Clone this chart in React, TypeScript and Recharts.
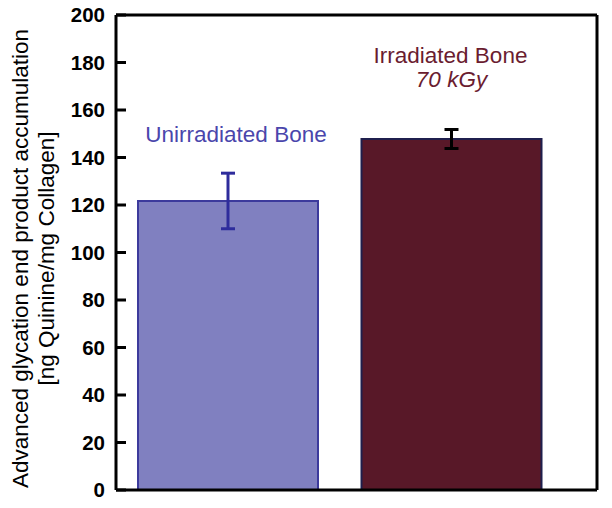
import React from 'react';
import { BarChart, Bar, XAxis, YAxis, Cell, ErrorBar, ReferenceLine, LabelList } from 'recharts';

const categories = ['Unirradiated Bone', 'Irradiated Bone'];
const subLabels = ['', '70 kGy'];
const means = [121.7, 147.8];
const errors = [11.7, 4.0];
const yTicks = [0, 20, 40, 60, 80, 100, 120, 140, 160, 180, 200];

const FILLS = ['#8080c0', '#581828'];
const STROKES = ['#3c3a9c', '#1f1f4d'];
const ERR_COLORS = ['#2e2c9c', '#000000'];
const TEXT_COLORS = ['#4a46ac', '#6a1c30'];
const FONT = '"Liberation Sans", Arial, Helvetica, sans-serif';

const data = categories.map((cat, i) => ({
  cat,
  sub: subLabels[i],
  mean: means[i],
  errA: i === 0 ? errors[i] : undefined,
  errB: i === 1 ? errors[i] : undefined,
}));

const LeftTick = (props: any) => {
  const { x, y, payload } = props;
  return (
    <g>
      <line x1={x} x2={x + 10} y1={y} y2={y} stroke="#000" strokeWidth={3} />
      <text x={x - 11} y={y} dy="0.36em" textAnchor="end" fontFamily={FONT} fontWeight="bold" fontSize={20.5} fill="#000">
        {payload.value}
      </text>
    </g>
  );
};

const RightTick = (props: any) => {
  const { x, y } = props;
  return <line x1={x - 9} x2={x} y1={y} y2={y} stroke="#000" strokeWidth={3} />;
};

const YLabel = (props: any) => {
  const vb = props.viewBox || { x: 0, y: 15, width: 116, height: 475 };
  const cy = vb.y + vb.height / 2 + 6;
  return (
    <g fontFamily={FONT} fontSize={22.5} fill="#000">
      <text x={20} y={cy} textAnchor="middle" dominantBaseline="central" transform={`rotate(-90 20 ${cy})`}>
        Advanced glycation end product accumulation
      </text>
      <text x={46} y={cy} textAnchor="middle" dominantBaseline="central" transform={`rotate(-90 46 ${cy})`}>
        [ng Quinine/mg Collagen]
      </text>
    </g>
  );
};

const BarText = (props: any) => {
  const { x, y, width, value } = props;
  const idx = categories.indexOf(value);
  const cx = x + width / 2;
  if (idx === 0) {
    return (
      <text x={cx + 8} y={y - 59} textAnchor="middle" fontFamily={FONT} fontSize={22.5} fill={TEXT_COLORS[0]}>
        {value}
      </text>
    );
  }
  return (
    <g fontFamily={FONT} fontSize={22.5} fill={TEXT_COLORS[1]}>
      <text x={cx - 1} y={y - 76} textAnchor="middle">{value}</text>
      <text x={cx} y={y - 52} textAnchor="middle" fontStyle="italic">{data[idx].sub}</text>
    </g>
  );
};

export default function App() {
  return (
    <div style={{ position: 'absolute', left: 0, top: 0, background: '#fff' }}>
      <BarChart width={612} height={508} data={data} margin={{ top: 15, right: 5, bottom: 17, left: 0 }} barSize={180}>
        <XAxis
          dataKey="cat"
          tick={false}
          tickLine={false}
          axisLine={{ stroke: '#000', strokeWidth: 3 }}
          height={1}
          padding={{ left: 0, right: 34 }}
        />
        <YAxis
          yAxisId="l"
          domain={[0, 200]}
          ticks={yTicks}
          width={116}
          tickSize={0}
          tickMargin={0}
          tickLine={false}
          tick={<LeftTick />}
          axisLine={{ stroke: '#000', strokeWidth: 3 }}
          label={<YLabel />}
          interval={0}
        />
        <YAxis
          yAxisId="r"
          orientation="right"
          domain={[0, 200]}
          ticks={yTicks}
          width={10}
          tickSize={0}
          tickMargin={0}
          tickLine={false}
          tick={<RightTick />}
          axisLine={{ stroke: '#000', strokeWidth: 3 }}
          interval={0}
        />
        <ReferenceLine yAxisId="l" y={200} stroke="#000" strokeWidth={3} />
        <Bar yAxisId="l" dataKey="mean" isAnimationActive={false} strokeWidth={2}>
          {data.map((d, i) => (
            <Cell key={d.cat} fill={FILLS[i]} stroke={STROKES[i]} />
          ))}
          <ErrorBar dataKey="errA" width={7} stroke={ERR_COLORS[0]} strokeWidth={3} direction="y" isAnimationActive={false} />
          <ErrorBar dataKey="errB" width={7} stroke={ERR_COLORS[1]} strokeWidth={3} direction="y" isAnimationActive={false} />
          <LabelList dataKey="cat" content={<BarText />} />
        </Bar>
      </BarChart>
    </div>
  );
}
